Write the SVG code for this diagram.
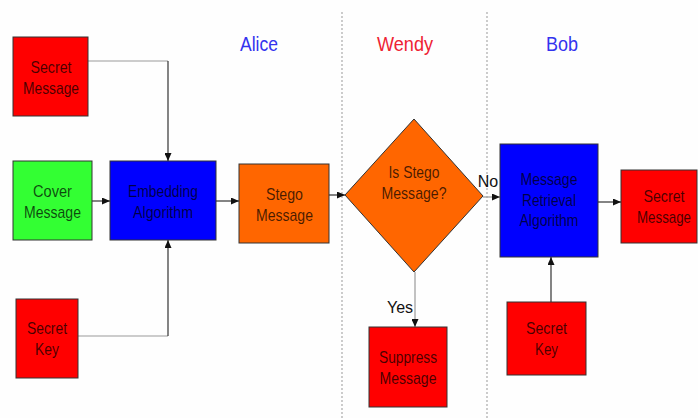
<svg xmlns="http://www.w3.org/2000/svg" width="698" height="418" viewBox="0 0 698 418">
<defs>
<marker id="ah" viewBox="0 0 8 7" refX="8" refY="3.5" markerWidth="8" markerHeight="7" markerUnits="userSpaceOnUse" orient="auto"><path d="M0,0 L8,3.5 L0,7 z" fill="#111"/></marker>
<style>
.box{stroke:#333;stroke-width:1}
.red{fill:#ff0000}.green{fill:#33ff33}.blue{fill:#0000ff}.orange{fill:#ff6600}
.t{font-family:"Liberation Sans",Arial,sans-serif;font-size:17px;fill:#000;fill-opacity:0.72;text-anchor:middle}
.lbl{font-family:"Liberation Sans",Arial,sans-serif;font-size:16px;fill:#111;text-anchor:middle}
.hdr{font-family:"Liberation Sans",Arial,sans-serif;font-size:20px;text-anchor:middle}
.dark{fill:none;stroke:#333;stroke-width:1.2}
.grey{fill:none;stroke:#999;stroke-width:1.2}
.sep{stroke:#999;stroke-width:1;stroke-dasharray:2,2}
</style>
</defs>
<rect width="698" height="418" fill="#fefefe"/>
<g id="separators">
<line class="sep" x1="342" y1="12" x2="342" y2="418"/>
<line class="sep" x1="487" y1="12" x2="487" y2="418"/>
</g>
<g id="headers">
<text class="hdr" x="259" y="51" fill="#3333ee" textLength="38" lengthAdjust="spacingAndGlyphs">Alice</text>
<text class="hdr" x="405" y="51" fill="#ee2233" textLength="56" lengthAdjust="spacingAndGlyphs">Wendy</text>
<text class="hdr" x="562" y="51" fill="#3333ee" textLength="32" lengthAdjust="spacingAndGlyphs">Bob</text>
</g>
<g id="connectors">
<polyline class="grey" points="88,61 168,61"/>
<polyline class="dark" points="168,61 168,161" marker-end="url(#ah)"/>
<line class="dark" x1="92" y1="201" x2="110" y2="201" marker-end="url(#ah)"/>
<polyline class="grey" points="78,336 168,336"/>
<polyline class="dark" points="168,336 168,240" marker-end="url(#ah)"/>
<line class="dark" x1="216" y1="201" x2="239" y2="201" marker-end="url(#ah)"/>
<line class="dark" x1="329" y1="195" x2="345" y2="195" marker-end="url(#ah)"/>
<line class="grey" x1="483" y1="197" x2="500" y2="197" marker-end="url(#ah)"/>
<line class="grey" x1="415" y1="272" x2="415" y2="327" marker-end="url(#ah)"/>
<line class="dark" x1="598" y1="202" x2="621" y2="202" marker-end="url(#ah)"/>
<line class="dark" x1="551" y1="302" x2="551" y2="257" marker-end="url(#ah)"/>
<text class="lbl" x="400" y="313">Yes</text>
<text class="lbl" x="488" y="187">No</text>
</g>
<g id="secret-message-alice">
<rect class="box red" x="13" y="37" width="75" height="79"/>
<text class="t" x="51" y="73" textLength="41" lengthAdjust="spacingAndGlyphs">Secret</text>
<text class="t" x="51" y="94" textLength="56" lengthAdjust="spacingAndGlyphs">Message</text>
</g>
<g id="cover-message">
<rect class="box green" x="13" y="161" width="79" height="79"/>
<text class="t" x="52.5" y="197" textLength="39" lengthAdjust="spacingAndGlyphs">Cover</text>
<text class="t" x="52.5" y="218" textLength="57" lengthAdjust="spacingAndGlyphs">Message</text>
</g>
<g id="secret-key-alice">
<rect class="box red" x="16" y="299" width="62" height="79"/>
<text class="t" x="47" y="334" textLength="40" lengthAdjust="spacingAndGlyphs">Secret</text>
<text class="t" x="47" y="355" textLength="24" lengthAdjust="spacingAndGlyphs">Key</text>
</g>
<g id="embedding-algorithm">
<rect class="box blue" x="110" y="161" width="106" height="79"/>
<text class="t" x="163" y="197" textLength="70" lengthAdjust="spacingAndGlyphs">Embedding</text>
<text class="t" x="163" y="218" textLength="60" lengthAdjust="spacingAndGlyphs">Algorithm</text>
</g>
<g id="stego-message">
<rect class="box orange" x="239" y="164" width="90" height="79"/>
<text class="t" x="284.5" y="200" textLength="37" lengthAdjust="spacingAndGlyphs">Stego</text>
<text class="t" x="284.5" y="221" textLength="57" lengthAdjust="spacingAndGlyphs">Message</text>
</g>
<g id="is-stego-message">
<polygon class="box orange" points="414,119 483,196 414,272 345,195"/>
<text class="t" x="414" y="178" textLength="51" lengthAdjust="spacingAndGlyphs">Is Stego</text>
<text class="t" x="414" y="199" textLength="65" lengthAdjust="spacingAndGlyphs">Message?</text>
</g>
<g id="suppress-message">
<rect class="box red" x="369" y="327" width="78" height="80"/>
<text class="t" x="408" y="363" textLength="58" lengthAdjust="spacingAndGlyphs">Suppress</text>
<text class="t" x="408" y="384" textLength="57" lengthAdjust="spacingAndGlyphs">Message</text>
</g>
<g id="message-retrieval-algorithm">
<rect class="box blue" x="500" y="144" width="98" height="113"/>
<text class="t" x="549" y="185" textLength="57" lengthAdjust="spacingAndGlyphs">Message</text>
<text class="t" x="549" y="206" textLength="54" lengthAdjust="spacingAndGlyphs">Retrieval</text>
<text class="t" x="549" y="226" textLength="59" lengthAdjust="spacingAndGlyphs">Algorithm</text>
</g>
<g id="secret-message-bob">
<rect class="box red" x="621" y="170" width="76" height="73"/>
<text class="t" x="664" y="202" textLength="41" lengthAdjust="spacingAndGlyphs">Secret</text>
<text class="t" x="664" y="223" textLength="54" lengthAdjust="spacingAndGlyphs">Message</text>
</g>
<g id="secret-key-bob">
<rect class="box red" x="507" y="302" width="79" height="73"/>
<text class="t" x="546.5" y="334" textLength="41" lengthAdjust="spacingAndGlyphs">Secret</text>
<text class="t" x="546.5" y="355" textLength="23" lengthAdjust="spacingAndGlyphs">Key</text>
</g>
</svg>
